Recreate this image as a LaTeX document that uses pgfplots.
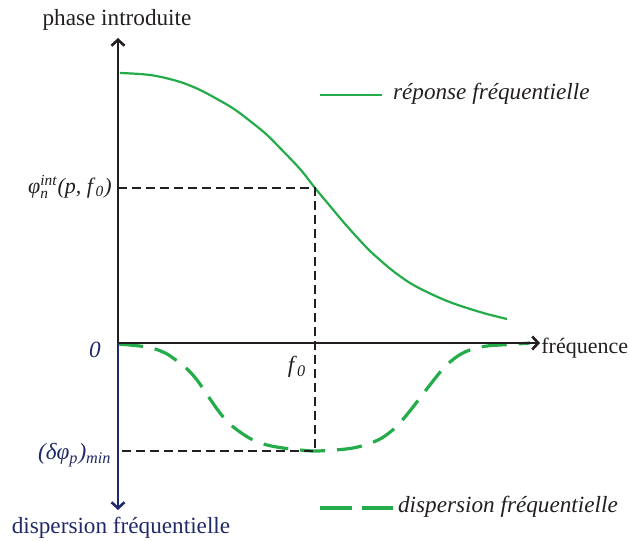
\documentclass[border=0pt]{standalone}
\usepackage{amsmath}
\usepackage{fontspec}
\setmainfont{Liberation Serif}
\usepackage{pgfplots}
\pgfplotsset{compat=1.18}
\usetikzlibrary{arrows.meta}
\definecolor{vert}{RGB}{36,172,74}
\definecolor{marine}{RGB}{32,42,102}
\definecolor{noir}{RGB}{35,31,32}

\begin{document}
\begin{tikzpicture}[font=\fontsize{11.6}{13}\selectfont]
\begin{axis}[
    scale only axis, width=315pt, height=270pt,
    xmin=-118, xmax=512, ymin=-197, ymax=343,
    axis lines=none, clip=false,
  ]
  % reponse frequentielle
  \addplot[vert, line width=1.1pt, smooth, tension=0.6] coordinates {
    (2,270) (32,268) (59,262) (80,254) (99,244) (116,234) (132,222) (148,209)
    (162,195) (182,174) (197,155) (212,137) (228,118) (249,95) (262,83)
    (275,72) (292,60) (309,51) (329,42) (349,35) (369,29) (389,24)};
  % dispersion frequentielle
  \addplot[vert, line width=1.6pt, smooth, tension=0.6, dash pattern=on 12.5pt off 6pt] coordinates {
    (0,-1) (29,-4) (45,-9) (55,-15) (68,-25) (79,-37) (90,-53) (102,-70)
    (112,-81) (122,-89) (135,-97) (149,-102) (165,-105) (182,-107)
    (197,-108) (217,-107) (235,-105) (250,-101) (262,-96) (271,-90) (279,-83)
    (287,-74) (295,-64) (305,-51) (315,-38) (324,-27) (332,-19) (343,-11)
    (355,-6) (369,-3) (382,-2) (399,-1) (412,0)};
  % reperes f0
  \addplot[noir, line width=1pt, dash pattern=on 4.5pt off 2.5pt] coordinates {
    (0,155) (197,155) (197,-108) (0,-108)};
  % axes
  \draw[noir, line width=1.3pt, -{Straight Barb[length=3pt,width=6.5pt]}] (axis cs:0,0) -- (axis cs:422,0);
  \draw[noir, line width=1.3pt, -{Straight Barb[length=3pt,width=6.5pt]}] (axis cs:0,0) -- (axis cs:0,305);
  \draw[marine, line width=1.3pt, -{Straight Barb[length=3pt,width=6.5pt]}] (axis cs:0,0) -- (axis cs:0,-167);
  % textes
  \node[noir] at (axis cs:-1,323) {phase introduite};
  \node[noir, anchor=west, inner sep=0pt, font=\fontsize{11}{13}\selectfont] at (axis cs:423,-5) {fréquence};
  \node[marine] at (axis cs:3,-185) {dispersion fréquentielle};
  \node[noir, anchor=east, inner sep=0pt, font=\fontsize{11}{13}\selectfont] at (axis cs:-6,156) {\textit{φ}$^{\text{\itshape int}}_{\text{\itshape n}}$\textit{(p, f}$_{\text{\itshape 0}}$\textit{)}};
  \node[marine] at (axis cs:-23,-7) {\textit{0}};
  \node[noir] at (axis cs:179,-24) {\textit{f}$_{\text{\itshape 0}}$};
  \node[marine, anchor=east, inner sep=0pt] at (axis cs:-6,-112) {\textit{(δφ}$_{\text{\itshape p}}$\textit{)}$_{\text{\itshape min}}$};
  % legende
  \addplot[vert, line width=1.1pt] coordinates {(202,248) (264,248)};
  \node[noir, anchor=west] at (axis cs:268,249) {\textit{réponse fréquentielle}};
  \addplot[vert, line width=1.6pt, dash pattern=on 16pt off 5pt] coordinates {(202,-165) (275,-165)};
  \node[noir, anchor=west] at (axis cs:273,-164) {\textit{dispersion fréquentielle}};
\end{axis}
\pgfresetboundingbox
\useasboundingbox (current axis.south west) rectangle (current axis.north east);
\end{tikzpicture}
\end{document}
